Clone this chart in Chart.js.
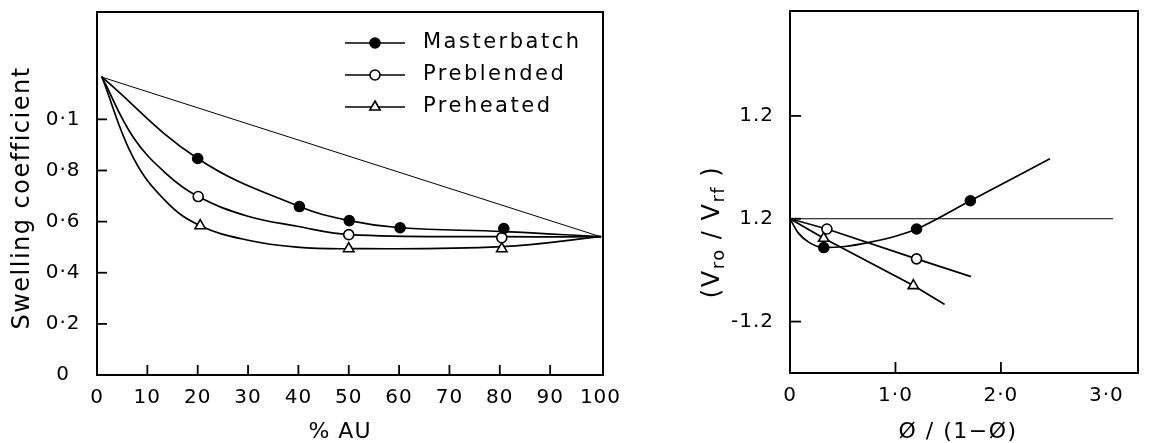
<!DOCTYPE html>
<html><head><meta charset="utf-8">
<script src="https://cdn.jsdelivr.net/npm/chart.js@4/dist/chart.umd.min.js"></script>
<style>
html,body{margin:0;padding:0;background:#fff;overflow:hidden}
#wrap{position:relative;width:1149px;height:443px;background:#fff}
canvas{position:absolute;left:0;top:0}
</style></head><body>
<div id="wrap"><canvas id="c1" width="1149" height="443"></canvas><canvas id="c2" width="1149" height="443"></canvas></div>
<script>
// ---------- Left panel data ----------
const auTicks = [0,10,20,30,40,50,60,70,80,90,100];
const auTickLabels = ['0','10','20','30','40','50','60','70','80','90','100'];
const swellTicks = [0,0.2,0.4,0.6,0.8,1.0];
const swellTickLabels = ['0','0·2','0·4','0·6','0·8','0·1'];

const masterbatchAU = [20,40.2,50.1,60.2,80.8];
const masterbatchSwell = [0.847,0.659,0.604,0.576,0.573];
const preblendedAU = [20.1,50,80.4];
const preblendedSwell = [0.698,0.549,0.537];
const preheatedAU = [20.5,50,80.4];
const preheatedSwell = [0.584,0.494,0.494];

// drawn curves
const mbCurveAU = [1,20,40.2,50.1,60.2,80.8,100];
const mbCurveSwell = [1.165,0.847,0.659,0.604,0.576,0.561,0.541];
const pbCurveAU = [1,7.2,13.9,20.1,29.8,39.7,50,80.4,100];
const pbCurveSwell = [1.165,0.93,0.785,0.698,0.622,0.582,0.549,0.541,0.541];
const phCurveAU = [1,7.2,13.9,20.5,29.8,39.7,50,80.4,100];
const phCurveSwell = [1.165,0.85,0.675,0.584,0.528,0.500,0.494,0.502,0.541];
const refAU = [1,100];
const refSwell = [1.165,0.541];

const seriesNames = ['Masterbatch','Preblended','Preheated'];

// ---------- Right panel data ----------
const phiTicks = [0,1,2,3];
const phiTickLabels = ['0','1·0','2·0','3·0'];
const ratioTicks = [-1,0,1];
const ratioTickLabels = ['-1.2','1.2','1.2'];

const mbPhi = [0.32,1.20,1.71];
const mbRatio = [-0.28,-0.10,0.175];
const pbPhi = [0.35,1.20];
const pbRatio = [-0.10,-0.39];
const phPhi = [0.32,1.17];
const phRatio = [-0.19,-0.65];

const mbCurvePhi = [0,0.08,0.18,0.32,0.52,0.75,1.0,1.20,1.71,2.46];
const mbCurveRatio = [0,-0.14,-0.23,-0.28,-0.27,-0.23,-0.17,-0.10,0.175,0.58];
const pbLinePhi = [0,0.35,1.20,1.71];
const pbLineRatio = [0,-0.10,-0.39,-0.56];
const phLinePhi = [0,0.32,1.17,1.46];
const phLineRatio = [0,-0.19,-0.65,-0.83];
const refPhi = [0,3.06];
const refRatio = [0,0];

// ---------- helpers ----------
const FONT = 'DejaVu Sans';
const zip = (xs, ys) => xs.map((x,i)=>({x:x, y:ys[i]}));

function curve(xs, ys, w, mode){
  return {data:zip(xs,ys), borderColor:'#000', borderWidth:w, pointRadius:0,
    cubicInterpolationMode: mode==='monotone' ? 'monotone' : 'default',
    tension: mode==='smooth' ? 0.4 : 0, fill:false, order:2};
}
function markers(label, xs, ys, style, filled){
  return {label:label, data:zip(xs,ys), showLine:false, pointStyle:style,
    pointRadius: style==='triangle'?6:5, pointBorderWidth:1.6,
    pointBackgroundColor: filled?'#000':'#fff', pointBorderColor:'#000',
    borderColor:'#000', backgroundColor: filled?'#000':'#fff', order:1, isMarker:true};
}
function txt(ctx, s, x, y, size, align, spacing, rot){
  ctx.save();
  ctx.font = size + 'px "' + FONT + '"';
  ctx.fillStyle = '#000';
  ctx.letterSpacing = (spacing||0) + 'px';
  ctx.textAlign = align || 'center';
  ctx.textBaseline = 'middle';
  ctx.translate(x, y);
  if (rot) ctx.rotate(rot);
  ctx.fillText(s, 0, 0);
  ctx.restore();
}

const framePlugin = {
  id:'frameTicks',
  beforeDraw(chart){ chart.ctx.letterSpacing = '1px'; },
  afterDraw(chart, args, o){
    const ctx = chart.ctx, a = chart.chartArea;
    ctx.save();
    ctx.letterSpacing = '0px';
    ctx.strokeStyle = '#000';
    ctx.lineWidth = 2;
    ctx.strokeRect(a.left, a.top, a.right-a.left, a.bottom-a.top);
    ctx.lineWidth = 1.8;
    const xs = chart.scales.x, ys = chart.scales.y;
    (o.xTicks||[]).forEach(v=>{
      const px = xs.getPixelForValue(v);
      ctx.beginPath(); ctx.moveTo(px, a.bottom); ctx.lineTo(px, a.bottom - o.len); ctx.stroke();
    });
    (o.yTicks||[]).forEach(v=>{
      const py = ys.getPixelForValue(v);
      ctx.beginPath(); ctx.moveTo(a.left, py); ctx.lineTo(a.left + o.len, py); ctx.stroke();
    });
    ctx.restore();
    if (o.draw) o.draw(chart);
  }
};
Chart.register(framePlugin);

function axisCfg(min, max, ticks, labels, pad, fit, cross){
  return {
    type:'linear', min:min, max:max,
    afterBuildTicks: s => { s.ticks = ticks.map(v=>({value:v})); },
    afterFit: s => { fit(s); s.paddingTop = 0; s.paddingBottom = 0; s.paddingLeft = 0; s.paddingRight = 0; },
    grid:{display:false, drawTicks:false}, border:{display:false},
    ticks:{callback:(v,i)=>labels[i], font:{family:FONT, size:20}, color:'#000',
      padding:pad, autoSkip:false, maxRotation:0, minRotation:0, crossAlign: cross||'near'}
  };
}

const common = {
  responsive:false, animation:false, events:[],
  elements:{line:{borderCapStyle:'round'}}
};

// ---------- Left chart ----------
new Chart(document.getElementById('c1'), {
  type:'line',
  data:{datasets:[
    curve(refAU, refSwell, 1, 'straight'),
    curve(mbCurveAU, mbCurveSwell, 1.7, 'smooth'),
    curve(pbCurveAU, pbCurveSwell, 1.7, 'smooth'),
    curve(phCurveAU, phCurveSwell, 1.7, 'smooth'),
    markers(seriesNames[0], masterbatchAU, masterbatchSwell, 'circle', true),
    markers(seriesNames[1], preblendedAU, preblendedSwell, 'circle', false),
    markers(seriesNames[2], preheatedAU, preheatedSwell, 'triangle', false)
  ]},
  options:Object.assign({}, common, {
    layout:{padding:{left:0, right:546, top:12, bottom:0}},
    scales:{
      x: axisCfg(0, 100.5, auTicks, auTickLabels, 11, s=>{ s.height = 68; }),
      y: axisCfg(0, 1.42, swellTicks, swellTickLabels, 18, s=>{ s.width = 97; }, 'center')
    },
    plugins:{legend:{display:false}, tooltip:{enabled:false},
      frameTicks:{len:10, xTicks:[10,20,30,40,50,60,70,80,90], yTicks:[0.2,0.4,0.6,0.8,1.0],
        draw(chart){
          const ctx = chart.ctx;
          txt(ctx, 'Swelling coefficient', 23, 198, 24, 'center', 1.5, -Math.PI/2);
          txt(ctx, '% AU', 340, 432, 22, 'center', 1);
          const rows = [43, 75, 107];
          chart.data.datasets.filter(d=>d.isMarker).forEach((d,i)=>{
            const y = rows[i];
            ctx.save();
            ctx.strokeStyle = '#000'; ctx.lineWidth = 1.6;
            ctx.beginPath(); ctx.moveTo(345, y); ctx.lineTo(405, y); ctx.stroke();
            ctx.fillStyle = d.pointBackgroundColor; ctx.strokeStyle = '#000'; ctx.lineWidth = d.pointBorderWidth;
            Chart.helpers.drawPoint(ctx, {pointStyle:d.pointStyle, radius:d.pointRadius, borderWidth:d.pointBorderWidth, rotation:0}, 375, y);
            ctx.restore();
            txt(ctx, d.label, 423, y, 21, 'left', 2.5);
          });
        }}
    }
  })
});

// ---------- Right chart ----------
new Chart(document.getElementById('c2'), {
  type:'line',
  data:{datasets:[
    curve(refPhi, refRatio, 1, 'straight'),
    curve(mbCurvePhi, mbCurveRatio, 1.7, 'monotone'),
    curve(pbLinePhi, pbLineRatio, 1.7, 'straight'),
    curve(phLinePhi, phLineRatio, 1.7, 'straight'),
    markers(seriesNames[0], mbPhi, mbRatio, 'circle', true),
    markers(seriesNames[1], pbPhi, pbRatio, 'circle', false),
    markers(seriesNames[2], phPhi, phRatio, 'triangle', false)
  ]},
  options:Object.assign({}, common, {
    layout:{padding:{left:0, right:11, top:11, bottom:0}},
    scales:{
      x: axisCfg(0, 3.3, phiTicks, phiTickLabels, 11, s=>{ s.height = 70; }),
      y: axisCfg(-1.5, 2.02, ratioTicks, ratioTickLabels, 16, s=>{ s.width = 790; })
    },
    plugins:{legend:{display:false}, tooltip:{enabled:false},
      frameTicks:{len:11, xTicks:[1,2], yTicks:[-1,0,1],
        draw(chart){
          const ctx = chart.ctx;
          txt(ctx, 'Ø / (1−Ø)', 958, 432, 22, 'center', 1.5);
          ctx.save();
          ctx.translate(713, 232);
          ctx.rotate(-Math.PI/2);
          ctx.fillStyle = '#000';
          ctx.textBaseline = 'middle';
          ctx.letterSpacing = '1.5px';
          const parts = [['(',24,0],['V',24,0],['ro',18,6],[' / ',24,0],['V',24,0],['rf',18,6],[' )',24,0]];
          let total = 0;
          parts.forEach(p=>{ ctx.font = p[1]+'px "'+FONT+'"'; total += ctx.measureText(p[0]).width; });
          let x = -total/2;
          parts.forEach(p=>{ ctx.font = p[1]+'px "'+FONT+'"'; ctx.textAlign='left'; ctx.fillText(p[0], x, p[2]); x += ctx.measureText(p[0]).width; });
          ctx.restore();
        }}
    }
  })
});
</script>
</body></html>
